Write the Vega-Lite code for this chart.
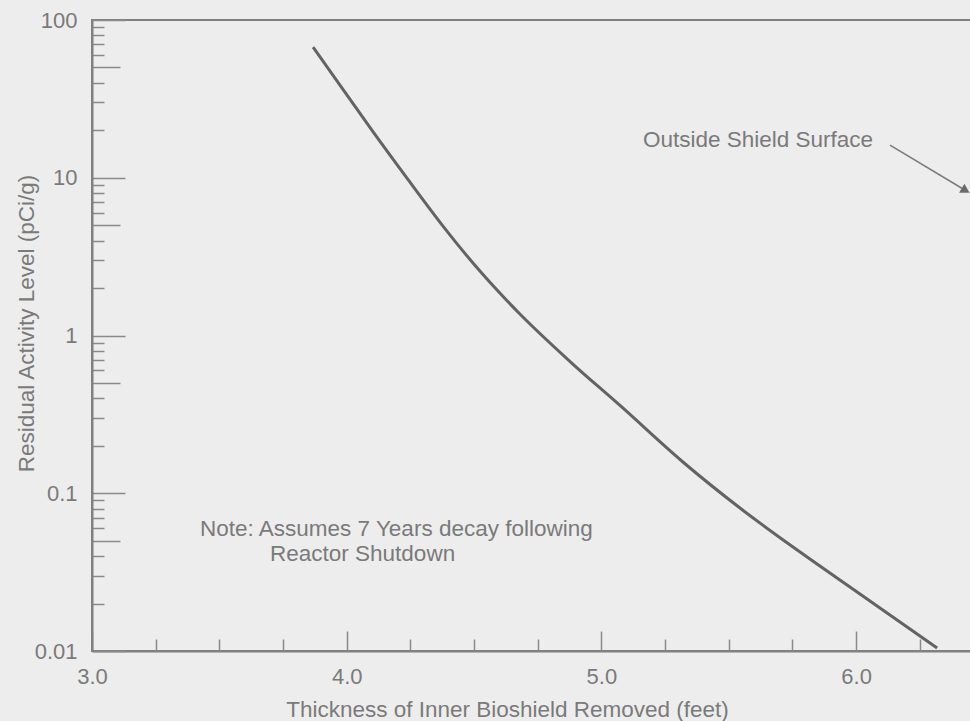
{
  "$schema": "https://vega.github.io/schema/vega-lite/v6.json",
  "width": 880,
  "height": 631,
  "autosize": "none",
  "padding": {"left": 92, "top": 20, "right": 0, "bottom": 70},
  "background": "#ededed",
  "config": {
    "view": {"stroke": "#808080", "strokeWidth": 2},
    "font": "Liberation Sans"
  },
  "datasets": {
    "curve": [
      {"thickness": 3.868, "activity": 67.4},
      {"thickness": 3.986, "activity": 36.2},
      {"thickness": 4.103, "activity": 19.6},
      {"thickness": 4.241, "activity": 9.73},
      {"thickness": 4.378, "activity": 4.94},
      {"thickness": 4.523, "activity": 2.56},
      {"thickness": 4.680, "activity": 1.369},
      {"thickness": 4.877, "activity": 0.684},
      {"thickness": 5.073, "activity": 0.360},
      {"thickness": 5.320, "activity": 0.1578},
      {"thickness": 5.544, "activity": 0.0806},
      {"thickness": 5.780, "activity": 0.0424},
      {"thickness": 6.015, "activity": 0.0230},
      {"thickness": 6.318, "activity": 0.01045}
    ],
    "notes": [
      {"x": 3.424, "y": 0.0536, "text": "Note: Assumes 7 Years decay following"},
      {"x": 3.699, "y": 0.0372, "text": "Reactor Shutdown"},
      {"x": 5.163, "y": 15.7, "text": "Outside Shield Surface"}
    ],
    "arrow": [
      {"x": 6.133, "y": 16.1, "x2": 6.43, "y2": 8.3}
    ]
  },
  "layer": [
    {
      "data": {"name": "curve"},
      "mark": {"type": "line", "interpolate": "monotone", "color": "#636363", "strokeWidth": 3},
      "encoding": {
        "x": {
          "field": "thickness",
          "type": "quantitative",
          "scale": {"domain": [3, 6.455], "nice": false, "zero": false},
          "axis": {
            "title": "Thickness of Inner Bioshield Removed (feet)",
            "values": [3, 3.25, 3.5, 3.75, 4, 4.25, 4.5, 4.75, 5, 5.25, 5.5, 5.75, 6, 6.25],
            "labelExpr": "abs(datum.value - round(datum.value)) < 0.001 ? format(datum.value, '.1f') : ''",
            "tickSize": {"condition": {"test": "abs(datum.value - round(datum.value)) < 0.001", "value": -20}, "value": -12},
            "tickColor": "#8a8a8a",
            "tickWidth": 1.5,
            "domainColor": "#808080",
            "domainWidth": 2,
            "grid": false,
            "labelOverlap": false,
            "labelFlush": false,
            "labelFontSize": 22,
            "labelColor": "#7a7a7a",
            "labelPadding": 35,
            "titleFontSize": 22.5,
            "titleFontWeight": "normal",
            "titleColor": "#7a7a7a",
            "titleX": 415,
            "titleY": 65,
            "titleBaseline": "alphabetic"
          }
        },
        "y": {
          "field": "activity",
          "type": "quantitative",
          "scale": {"type": "log", "domain": [0.01, 100], "nice": false},
          "axis": {
            "title": "Residual Activity Level (pCi/g)",
            "values": [0.01, 0.02, 0.03, 0.04, 0.05, 0.06, 0.07, 0.08, 0.09, 0.1, 0.2, 0.3, 0.4, 0.5, 0.6, 0.7, 0.8, 0.9, 1, 2, 3, 4, 5, 6, 7, 8, 9, 10, 20, 30, 40, 50, 60, 70, 80, 90, 100],
            "labelExpr": "abs(datum.value / pow(10, round(log(datum.value) / LN10)) - 1) < 0.001 ? format(datum.value, '~g') : ''",
            "tickSize": {"condition": [
              {"test": "abs(datum.value / pow(10, round(log(datum.value) / LN10)) - 1) < 0.001", "value": -33},
              {"test": "abs(datum.value / pow(10, floor(log(datum.value) / LN10 + 0.0001)) - 5) < 0.001", "value": -28}
            ], "value": -12},
            "tickColor": "#8a8a8a",
            "tickWidth": 1.5,
            "domainColor": "#808080",
            "domainWidth": 2,
            "grid": false,
            "labelOverlap": false,
            "labelFlush": false,
            "labelFontSize": 22,
            "labelColor": "#7a7a7a",
            "labelPadding": 48,
            "titleFontSize": 22.5,
            "titleFontWeight": "normal",
            "titleColor": "#7a7a7a",
            "titleX": -59,
            "titleY": 303,
            "titleBaseline": "alphabetic"
          }
        }
      }
    },
    {
      "data": {"name": "notes"},
      "mark": {"type": "text", "align": "left", "baseline": "alphabetic", "fontSize": 22.5, "color": "#7a7a7a"},
      "encoding": {
        "x": {"field": "x", "type": "quantitative"},
        "y": {"field": "y", "type": "quantitative"},
        "text": {"field": "text"}
      }
    },
    {
      "data": {"name": "arrow"},
      "mark": {"type": "rule", "color": "#7a7a7a", "strokeWidth": 1.5},
      "encoding": {
        "x": {"field": "x", "type": "quantitative"},
        "y": {"field": "y", "type": "quantitative"},
        "x2": {"field": "x2"},
        "y2": {"field": "y2"}
      }
    },
    {
      "data": {"name": "arrow"},
      "mark": {"type": "point", "shape": "triangle-right", "angle": 31, "filled": true, "size": 110, "color": "#6b6b6b", "opacity": 1},
      "encoding": {
        "x": {"field": "x2", "type": "quantitative"},
        "y": {"field": "y2", "type": "quantitative"}
      }
    }
  ]
}
